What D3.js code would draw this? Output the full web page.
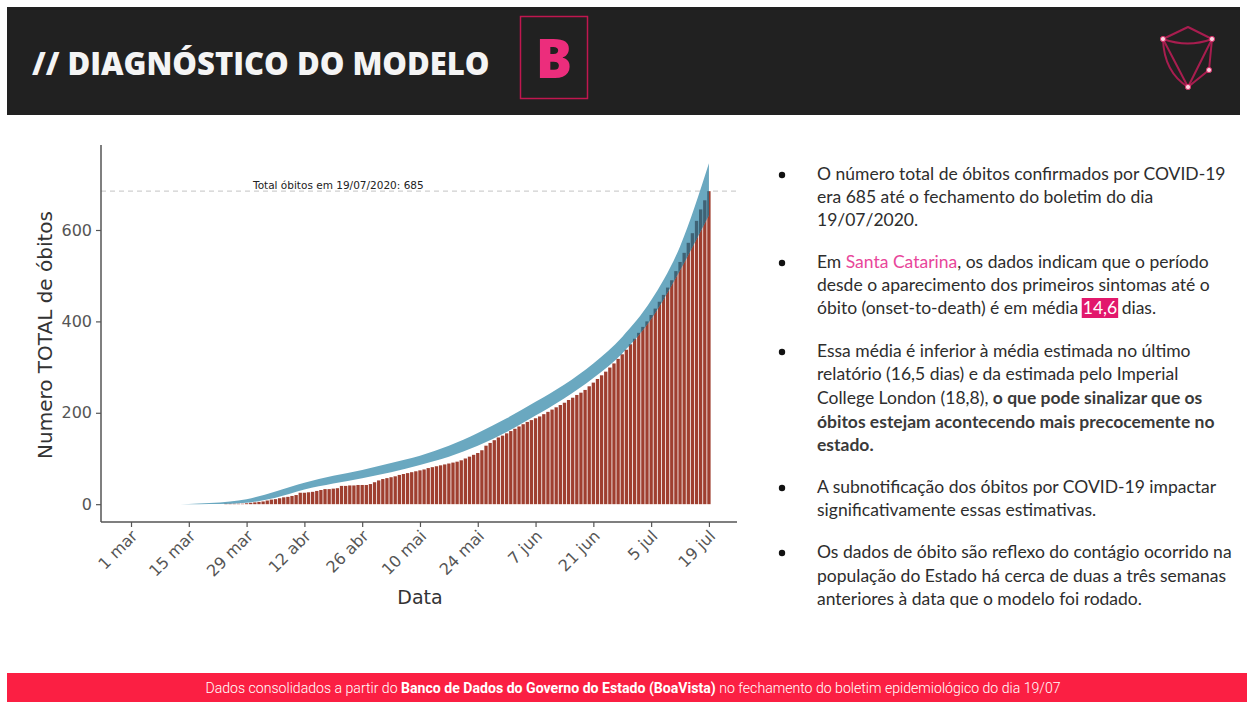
<!DOCTYPE html>
<html>
<head>
<meta charset="utf-8">
<script src="https://cdn.jsdelivr.net/npm/d3@7"></script>
<style>
  html, body { margin: 0; padding: 0; background: #ffffff; }
  svg { display: block; }
</style>
</head>
<body>
<svg id="chart" width="1247" height="702"></svg>
<script>
// ---------------- DATA ----------------
const barStartDate = "2020-03-24";
// cumulative confirmed deaths, one value per day from 24 Mar to 19 Jul 2020
const deaths = [
  1,1,1,1,1,
  2,3,4,
  5,6,8,10,11,13,15,16,18,20,
  25,25,26,27,29,31,33,33,34,35,
  40,40,41,41,42,42,42,44,48,52,
  55,57,59,61,64,66,68,70,72,74,
  76,79,81,83,85,87,89,91,93,96,
  100,104,108,112,118,128,134,140,146,150,155,
  160,165,170,175,180,184,188,192,197,202,
  207,212,217,222,228,233,239,244,250,258,
  266,274,282,290,299,308,318,328,338,350,
  362,375,388,400,414,428,443,458,474,490,
  510,530,550,572,593,620,645,665,685
];
// model band (estimated cumulative deaths)
const bandDates = ["2020-03-11","2020-03-15","2020-03-20","2020-03-25","2020-03-29","2020-04-05","2020-04-12","2020-04-19","2020-04-26","2020-05-03","2020-05-10","2020-05-17","2020-05-24","2020-05-31","2020-06-07","2020-06-14","2020-06-21","2020-06-28","2020-07-05","2020-07-12","2020-07-19"];
const bandLower = [0,0,0.5,1,3,14,32,45,57,70,86,104,128,158,194,232,276,330,405,512,632];
const bandUpper = [0,0.5,2.5,6,11,28,47,62,75,90,106,128,156,188,224,262,308,366,446,564,746];
const xTickDates = ["2020-03-01","2020-03-15","2020-03-29","2020-04-12","2020-04-26","2020-05-10","2020-05-24","2020-06-07","2020-06-21","2020-07-05","2020-07-19"];
const xTickLabels = ["1 mar","15 mar","29 mar","12 abr","26 abr","10 mai","24 mai","7 jun","21 jun","5 jul","19 jul"];
const yTickValues = [0,200,400,600];
const totalDeaths = 685;
const annotationText = "Total óbitos em 19/07/2020: 685";

const titleText = "// DIAGNÓSTICO DO MODELO";
const badgeText = "B";
const footerSegments = [
  ["Dados consolidados a partir do ", false],
  ["Banco de Dados do Governo do Estado (BoaVista)", true],
  [" no fechamento do boletim epidemiológico do dia 19/07", false]
];
// bullets: paragraphs -> lines -> segments [text, style]
const bullets = [
  [
    [["O número total de óbitos confirmados por COVID-19", "n"]],
    [["era 685 até o fechamento do boletim do dia", "n"]],
    [["19/07/2020.", "n"]]
  ],
  [
    [["Em ", "n"], ["Santa Catarina", "pink"], [", os dados indicam que o período", "n"]],
    [["desde o aparecimento dos primeiros sintomas até o", "n"]],
    [["óbito (onset-to-death) é em média ", "n"], ["14,6", "hl"], [" dias.", "n"]]
  ],
  [
    [["Essa média é inferior à média estimada no último", "n"]],
    [["relatório (16,5 dias) e da estimada pelo Imperial", "n"]],
    [["College London (18,8), ", "n"], ["o que pode sinalizar que os", "b"]],
    [["óbitos estejam acontecendo mais precocemente no", "b"]],
    [["estado.", "b"]]
  ],
  [
    [["A subnotificação dos óbitos por COVID-19 impactar", "n"]],
    [["significativamente essas estimativas.", "n"]]
  ],
  [
    [["Os dados de óbito são reflexo do contágio ocorrido na", "n"]],
    [["população do Estado há cerca de duas a três semanas", "n"]],
    [["anteriores à data que o modelo foi rodado.", "n"]]
  ]
];

// ---------------- DRAW ----------------
const svg = d3.select("#chart");
const parse = d3.timeParse("%Y-%m-%d");
const DAY = 864e5;

// header
svg.append("rect").attr("x", 7).attr("y", 7).attr("width", 1233).attr("height", 108).attr("fill", "#212121");
svg.append("text").attr("x", 32).attr("y", 75)
  .attr("font-family", "'Open Sans', sans-serif").attr("font-weight", 800)
  .attr("font-size", 31).attr("fill", "#f4f4f4").text(titleText);
svg.append("rect").attr("x", 520.5).attr("y", 16.5).attr("width", 67).attr("height", 82)
  .attr("fill", "none").attr("stroke", "#c0174f").attr("stroke-width", 1.5);
svg.append("text").attr("x", 554).attr("y", 78).attr("text-anchor", "middle")
  .attr("font-family", "'Open Sans', sans-serif").attr("font-weight", 800)
  .attr("font-size", 54).attr("fill", "#ec2d7c").text(badgeText);

// logo
const logo = svg.append("g").attr("fill", "none").attr("stroke", "#a81d4f").attr("stroke-width", 2).attr("stroke-linejoin", "round");
logo.append("path").attr("d", "M1163,39 L1188,27 L1212,39");
logo.append("path").attr("d", "M1163,39 Q1164,72 1188,87");
logo.append("path").attr("d", "M1212,39 L1209,70 L1188,87");
logo.append("path").attr("d", "M1163,39 Q1188,48 1212,39");
logo.append("path").attr("d", "M1163,39 L1188,87 L1212,39");
[[1163,39],[1212,39],[1188,87],[1209,70]].forEach(p => {
  logo.append("circle").attr("cx", p[0]).attr("cy", p[1]).attr("r", 2.6).attr("fill", "#f9d3df").attr("stroke", "#d8306a").attr("stroke-width", 1);
});

// chart
const plot = {left: 101, right: 737, top: 145, bottom: 522};
const x0 = +parse("2020-03-01");
const x = d3.scaleTime()
  .domain([new Date(x0 - 7.27 * DAY), new Date(x0 + 146.8 * DAY)])
  .range([plot.left, plot.right]);
const y = d3.scaleLinear().domain([-39, 786]).range([plot.bottom, plot.top]);

const barData = deaths.map((v, i) => ({date: d3.timeDay.offset(parse(barStartDate), i), value: v}));
const step = x(new Date(x0 + DAY)) - x(new Date(x0));
const bw = step - 0.8;

const band = bandDates.map((d, i) => ({date: parse(d), lo: bandLower[i], hi: bandUpper[i]}));
const area = d3.area().x(d => x(d.date)).y0(d => y(d.lo)).y1(d => y(d.hi)).curve(d3.curveMonotoneX);

svg.append("defs").append("clipPath").attr("id", "bandClip")
  .append("path").attr("d", area(band));

// dashed line of total
svg.append("line").attr("x1", plot.left).attr("x2", plot.right)
  .attr("y1", y(totalDeaths)).attr("y2", y(totalDeaths))
  .attr("stroke", "#cfcfcf").attr("stroke-width", 1.4).attr("stroke-dasharray", "5,4");

// bars
svg.append("g").selectAll("rect").data(barData).join("rect")
  .attr("x", d => x(d.date) - bw / 2).attr("width", bw)
  .attr("y", d => y(d.value)).attr("height", d => y(0) - y(d.value))
  .attr("fill", "#9f3f30");

// band
svg.append("path").attr("d", area(band)).attr("fill", "#6aa8c0");

// overlap of bars and band
svg.append("g").attr("clip-path", "url(#bandClip)").selectAll("rect").data(barData).join("rect")
  .attr("x", d => x(d.date) - bw / 2).attr("width", bw)
  .attr("y", d => y(d.value)).attr("height", d => y(0) - y(d.value))
  .attr("fill", "#3f6275");

// annotation
svg.append("text").attr("x", 253).attr("y", 189)
  .attr("font-family", "'DejaVu Sans', sans-serif").attr("font-size", 10.5)
  .attr("fill", "#222").text(annotationText);

// axes
const yAxis = d3.axisLeft(y).tickValues(yTickValues).tickSize(5).tickSizeOuter(0).tickPadding(4);
const gy = svg.append("g").attr("transform", `translate(${plot.left},0)`).call(yAxis);
gy.select(".domain").attr("stroke", "#555").attr("stroke-width", 1.5);
gy.selectAll(".tick line").attr("stroke", "#555").attr("stroke-width", 1.2);
gy.selectAll(".tick text").attr("font-family", "'DejaVu Sans', sans-serif").attr("font-size", 16).attr("fill", "#555");

const xAxis = d3.axisBottom(x).tickValues(xTickDates.map(parse))
  .tickFormat((d, i) => xTickLabels[i]).tickSize(5).tickSizeOuter(0).tickPadding(4);
const gx = svg.append("g").attr("transform", `translate(0,${plot.bottom})`).call(xAxis);
gx.select(".domain").attr("stroke", "#555").attr("stroke-width", 1.5);
gx.selectAll(".tick line").attr("stroke", "#555").attr("stroke-width", 1.2);
gx.selectAll(".tick text")
  .attr("font-family", "'DejaVu Sans', sans-serif").attr("font-size", 16).attr("fill", "#555")
  .attr("text-anchor", "end").attr("dy", null).attr("y", 0)
  .attr("transform", "translate(7,15) rotate(-45)");
gy.select(".domain").attr("d", `M0,${plot.bottom}V${plot.top}`);
gx.select(".domain").attr("d", `M${plot.left},0H${plot.right}`);

svg.append("text").attr("transform", "translate(52,335) rotate(-90)").attr("text-anchor", "middle")
  .attr("font-family", "'DejaVu Sans', sans-serif").attr("font-size", 20).attr("fill", "#333")
  .text("Numero TOTAL de óbitos");
svg.append("text").attr("x", 420).attr("y", 604).attr("text-anchor", "middle")
  .attr("font-family", "'DejaVu Sans', sans-serif").attr("font-size", 19).attr("fill", "#333")
  .text("Data");

// bullet text
const baselines = [[180,203,226],[268,291,314],[357,380,404,428,451],[493,516],[558,582,605]];
const tg = svg.append("g").attr("font-family", "Lato, sans-serif").attr("font-size", 17.5).attr("fill", "#2d2d2d");
bullets.forEach((para, pi) => {
  tg.append("circle").attr("cx", 782).attr("cy", baselines[pi][0] - 5).attr("r", 3.2).attr("fill", "#111");
  para.forEach((line, li) => {
    const t = tg.append("text").attr("x", 817).attr("y", baselines[pi][li]);
    line.forEach(seg => {
      const ts = t.append("tspan").text(seg[0]);
      if (seg[1] === "pink") ts.attr("fill", "#e8469a");
      if (seg[1] === "b") ts.attr("font-weight", 700).attr("fill", "#3a3a3a");
      if (seg[1] === "hl") ts.attr("fill", "#fff").attr("class", "hl");
    });
  });
});
// highlight box behind 14,6
tg.selectAll("tspan.hl").each(function() {
  const parent = this.parentNode;
  const txt = parent.textContent;
  const start = txt.indexOf("14,6");
  const s = parent.getExtentOfChar(start);
  const e = parent.getExtentOfChar(start + 3);
  d3.select(parent.parentNode).insert("rect", function() { return parent; })
    .attr("x", s.x - 1).attr("y", s.y + 1).attr("width", e.x + e.width - s.x + 2).attr("height", s.height - 1)
    .attr("fill", "#e2186c");
});

// footer
svg.append("rect").attr("x", 7).attr("y", 673).attr("width", 1240).attr("height", 29).attr("fill", "#fb1f43");
const ft = svg.append("text").attr("x", 633).attr("y", 693).attr("text-anchor", "middle")
  .attr("font-family", "Roboto, sans-serif").attr("font-size", 14.1).attr("fill", "#fff").attr("font-weight", 300);
footerSegments.forEach(s => { const t = ft.append("tspan").text(s[0]); if (s[1]) t.attr("font-weight", 700); });
</script>
</body>
</html>
